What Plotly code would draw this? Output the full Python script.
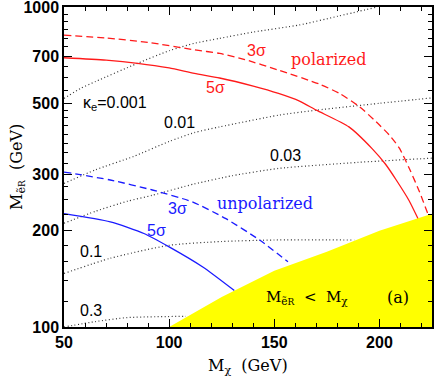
import numpy as np
import plotly.graph_objects as go

# red curves (polarized beam)
red5_x = [50, 70, 85, 100, 112, 124, 140, 152, 162, 170, 185.5, 196.5, 203, 208, 214, 218.5]
red5_y = [694, 682, 667, 645, 620, 600, 566, 537, 508, 476, 422, 361, 322, 288, 249, 217]
red3_x = [50, 70, 90, 112, 124, 136, 152, 171.5, 181, 190.5, 198.4, 204.7, 209.5, 214.5, 219, 223]
red3_y = [817, 800, 775, 735, 716, 685, 635, 574, 537, 488, 438, 398, 362, 310, 265, 226]

# blue curves (unpolarized beam)
blue5_x = [50, 72, 88, 100, 116, 131]
blue5_y = [226, 213, 196, 178, 154, 130]
blue3_x = [50, 72, 92, 111, 127, 143, 156.5]
blue3_y = [305, 288, 268, 246, 218, 187, 160]

# kappa_e contours (dotted)
k0001_x = [50, 58, 65, 85, 100, 112, 124, 140, 162, 180, 199]
k0001_y = [518, 557, 585, 667, 730, 770, 798, 835, 879, 935, 1000]
k001_x = [50, 65, 83, 100, 112, 124, 152, 170, 200, 225]
k001_y = [281, 310, 341, 380, 405, 422, 459, 476, 500, 520]
k003_x = [50, 65, 80, 92, 112, 130, 152, 190, 225]
k003_y = [211, 230, 247, 258, 280, 297, 313, 327, 337]
k01_x = [50, 72, 100, 125, 150, 188]
k01_y = [147, 164, 180, 185, 187, 187]
k03_x = [50, 65, 80, 108]
k03_y = [100, 104, 107, 108]

# excluded region M_eR < M_chi
excl_x = [100, 125, 150, 175, 200, 225, 225]
excl_y = [100, 124, 150, 172, 200, 226, 100]

x_ticks = [50, 100, 150, 200]
y_ticks = [100, 200, 300, 500, 700, 1000]
x_minor = [v for v in range(60, 225, 10) if v not in x_ticks]
y_minor = [120, 140, 160, 180, 225, 250, 275, 325, 350, 375, 400, 425, 450, 475,
           550, 600, 650, 750, 800, 850, 900, 950]

RED = '#ff1a1a'
BLUE = '#1a1aff'
SERIF = 'DejaVu Serif'
SANS = 'Liberation Sans'
ESUB = "ẽ<span style='font-size:9px'>R</span>"

fig = go.Figure()

for xs, ys in [(k0001_x, k0001_y), (k001_x, k001_y), (k003_x, k003_y), (k01_x, k01_y), (k03_x, k03_y)]:
    fig.add_trace(go.Scatter(x=xs, y=ys, mode='lines',
                             line=dict(color='#333333', width=1.2, dash='1px,2.5px',
                                       shape='spline', smoothing=0.6)))

fig.add_trace(go.Scatter(x=red5_x, y=red5_y, mode='lines',
                         line=dict(color=RED, width=1.3, shape='spline', smoothing=0.6)))
fig.add_trace(go.Scatter(x=red3_x, y=red3_y, mode='lines',
                         line=dict(color=RED, width=1.3, dash='7px,4px', shape='spline', smoothing=0.6)))
fig.add_trace(go.Scatter(x=blue5_x, y=blue5_y, mode='lines',
                         line=dict(color=BLUE, width=1.3, shape='spline', smoothing=0.6)))
fig.add_trace(go.Scatter(x=blue3_x, y=blue3_y, mode='lines',
                         line=dict(color=BLUE, width=1.3, dash='7px,4px', shape='spline', smoothing=0.6)))

fig.add_trace(go.Scatter(x=excl_x, y=excl_y, mode='lines', fill='toself',
                         fillcolor='#ffff00', line=dict(color='#ffff00', width=0)))


def label(x, y, text, color='black', family=SANS, size=16):
    fig.add_annotation(x=x, y=np.log10(y), xref='x', yref='y', text=text, showarrow=False,
                       xanchor='center', yanchor='middle',
                       font=dict(color=color, family=family, size=size))


label(74.4, 501, 'κ<sub>e</sub>=0.001')
label(104.9, 436, '0.01')
label(155.2, 344, '0.03')
label(62.8, 172, '0.1')
label(63, 113, '0.3')
label(141.6, 733, '3σ', RED)
label(122.1, 562, '5σ', RED)
label(175.8, 686, 'polarized', RED, SERIF)
label(103.9, 234, '3σ', BLUE)
label(94.1, 200, '5σ', BLUE)
label(145.4, 244, 'unpolarized', BLUE, SERIF)
label(165.6, 124, 'M<sub>' + ESUB + '</sub>  <  M<sub>χ</sub>', family=SERIF, size=15)
label(209, 124, '(a)', family=SERIF)

# axis titles
fig.add_annotation(x=-0.128, y=0.5, xref='paper', yref='paper', text='M<sub>' + ESUB + '</sub>  (GeV)',
                   textangle=-90, showarrow=False, xanchor='center', yanchor='middle',
                   font=dict(family=SERIF, size=16, color='black'))
fig.add_annotation(x=0.5, y=-0.122, xref='paper', yref='paper', text='M<sub>χ</sub>  (GeV)',
                   showarrow=False, xanchor='center', yanchor='middle',
                   font=dict(family=SERIF, size=16, color='black'))

axis_common = dict(showgrid=False, zeroline=False, showline=True, linecolor='black', linewidth=1.5,
                   mirror='allticks', ticks='inside', ticklen=8, tickwidth=1.3, tickcolor='black',
                   automargin=False, ticklabeloverflow='allow',
                   tickfont=dict(family=SANS, size=16, color='black', weight='bold'))

fig.update_xaxes(range=[50, 225], tickvals=x_ticks,
                 minor=dict(tickvals=x_minor, ticks='inside', ticklen=4, tickcolor='black'),
                 **axis_common)
fig.update_yaxes(type='log', range=[2, 3], tickvals=y_ticks, ticktext=[str(v) for v in y_ticks],
                 minor=dict(tickvals=y_minor, ticks='inside', ticklen=4, tickcolor='black'),
                 **axis_common)

fig.update_layout(width=436, height=382, showlegend=False,
                  margin=dict(l=64, r=4, t=7, b=55),
                  plot_bgcolor='white', paper_bgcolor='white')

# drop the default 8px page margin so the figure sits at the window corner
fig.write_html('out.html', config={'displayModeBar': False},
               post_script="document.body.style.margin='0';")
